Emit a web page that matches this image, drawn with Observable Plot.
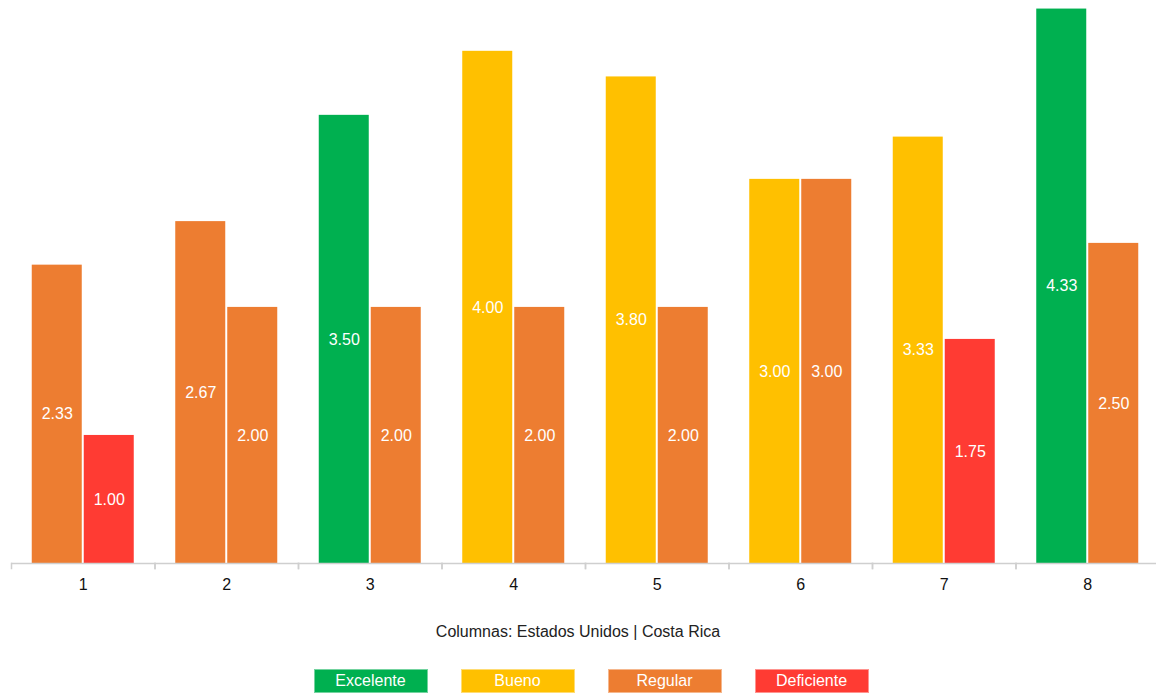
<!DOCTYPE html>
<html>
<head>
<meta charset="utf-8">
<script src="https://cdn.jsdelivr.net/npm/d3@7"></script>
<script src="https://cdn.jsdelivr.net/npm/@observablehq/plot@0.6"></script>
<style>
  html, body { margin: 0; padding: 0; background: #fff; overflow: hidden; }
  body { width: 1156px; font-family: "Liberation Sans", Arial, sans-serif; }
  #chart { width: 1156px; height: 600px; overflow: hidden; }
  #chart svg { max-width: none !important; }
  #caption { text-align: center; font-size: 16px; color: #222; margin-top: 22px; line-height: 20px; }
  #legend { display: flex; justify-content: center; gap: 33px; margin-top: 27px; padding-left: 26px; }
  .sw { width: 112px; height: 22px; line-height: 22px; text-align: center; color: #fff; font-size: 16px; border: 1px solid rgba(255,255,255,0.45); }
</style>
</head>
<body>
<div id="chart"></div>
<div id="caption"></div>
<div id="legend"></div>
<script>
const groups = ["1", "2", "3", "4", "5", "6", "7", "8"];
const seriesNames = ["Estados Unidos", "Costa Rica"];
const usValues = [2.33, 2.67, 3.50, 4.00, 3.80, 3.00, 3.33, 4.33];
const usRatings = ["Regular", "Regular", "Excelente", "Bueno", "Bueno", "Bueno", "Bueno", "Excelente"];
const crValues = [1.00, 2.00, 2.00, 2.00, 2.00, 3.00, 1.75, 2.50];
const crRatings = ["Deficiente", "Regular", "Regular", "Regular", "Regular", "Regular", "Deficiente", "Regular"];
const categories = ["Excelente", "Bueno", "Regular", "Deficiente"];
const categoryColors = ["#00b050", "#ffc000", "#ed7d31", "#ff3b33"];
const captionText = "Columnas: Estados Unidos | Costa Rica";

const data = [];
groups.forEach((g, i) => {
  data.push({group: g, series: seriesNames[0], value: usValues[i], rating: usRatings[i]});
  data.push({group: g, series: seriesNames[1], value: crValues[i], rating: crRatings[i]});
});

const chart = Plot.plot({
  width: 1159,
  height: 600,
  marginLeft: 11,
  marginRight: 0,
  marginTop: 6,
  marginBottom: 37,
  style: {fontFamily: "Liberation Sans, Arial, sans-serif", fontSize: "16px", color: "#111", background: "#fff", maxWidth: "none"},
  fx: {domain: groups, padding: 0, round: false, label: null, axis: null},
  x: {domain: seriesNames, paddingInner: 0.0385, paddingOuter: 0.399, round: false, axis: null},
  y: {domain: [0, 4.35], axis: null},
  color: {domain: categories, range: categoryColors},
  marks: [
    Plot.barY(data, {fx: "group", x: "series", y: "value", fill: "rating"}),
    Plot.text(data, {fx: "group", x: "series", y: d => d.value / 2, text: d => d.value.toFixed(2), fill: "#fff", fontSize: 16}),
    Plot.ruleY([0], {stroke: "#cfcfcf", strokeWidth: 1.5}),
    Plot.frame({anchor: "left", stroke: "#cfcfcf", strokeWidth: 1.5, insetTop: 557, insetBottom: -5}),
    Plot.frame({anchor: "right", stroke: "#cfcfcf", strokeWidth: 1.5, insetTop: 557, insetBottom: -5}),
    Plot.axisFx({anchor: "bottom", tickSize: 0, tickPadding: 15, fontSize: 16, label: null})
  ]
});
document.getElementById("chart").appendChild(chart);
document.getElementById("caption").textContent = captionText;

const legend = document.getElementById("legend");
categories.forEach((c, i) => {
  const d = document.createElement("div");
  d.className = "sw";
  d.style.background = categoryColors[i];
  d.textContent = c;
  legend.appendChild(d);
});
</script>
</body>
</html>
